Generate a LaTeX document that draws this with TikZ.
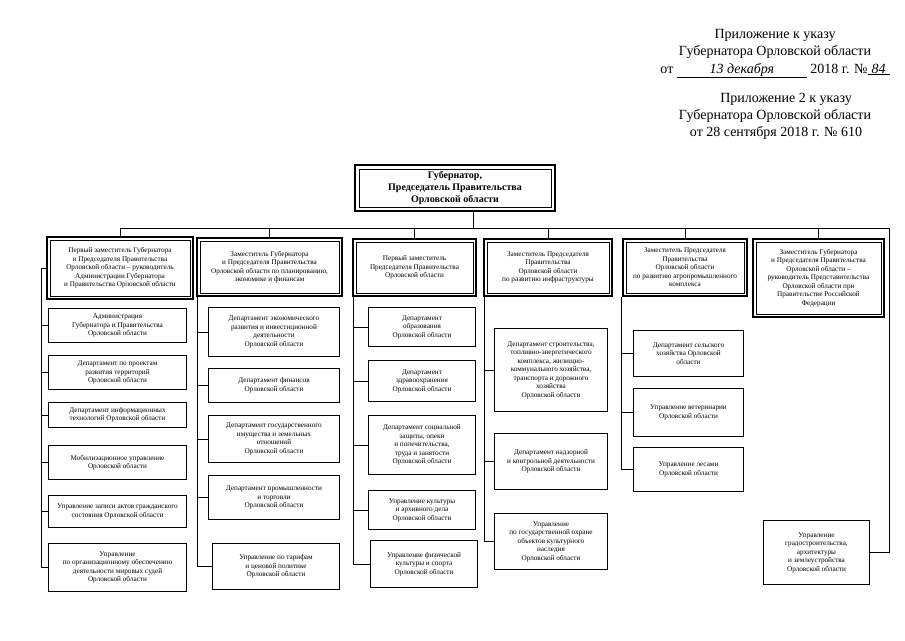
\documentclass[tikz,border=0pt]{standalone}
\usepackage{fontspec}
\setmainfont{Liberation Serif}
\tikzset{
    govbox/.style={draw, line width=1.5pt, align=center, inner sep=0pt, font=\bfseries\fontsize{10}{12}\selectfont,
        path picture={\draw[line width=0.8pt] ([shift={(4pt,-4pt)}]path picture bounding box.north west) rectangle ([shift={(-4pt,4pt)}]path picture bounding box.south east);}},
    headbox/.style={draw, line width=1.3pt, align=center, inner sep=0pt, font=\fontsize{7.2}{8.5}\selectfont,
        path picture={\draw[line width=0.7pt] ([shift={(2.9pt,-2.9pt)}]path picture bounding box.north west) rectangle ([shift={(-2.9pt,2.9pt)}]path picture bounding box.south east);}},
    subbox/.style={draw, line width=1.3pt, align=center, inner sep=0pt, font=\fontsize{7.2}{8.5}\selectfont},
    link/.style={line width=0.9pt},
    decree/.style={anchor=base, inner sep=0pt, font=\fontsize{14}{17}\selectfont}
}
\begin{document}
\begin{tikzpicture}[x=1pt, y=-1pt]
    \useasboundingbox (0, 0) rectangle (905, 640);
    \fill[white] (0, 0) rectangle (905, 640);

    % decree header
    \node[decree] (d1) at (775, 38) {Приложение к указу};
    \node[decree] (d2) at (775, 55) {Губернатора Орловской области};
    \node[decree] (d3) at (775, 73) {от \underline{\makebox[130pt]{\textit{13 декабря}}} 2018 г. №\underline{\makebox[22pt]{\textit{84}}}};
    \node[decree] (d4) at (786, 102) {Приложение 2 к указу};
    \node[decree] (d5) at (775, 119) {Губернатора Орловской области};
    \node[decree] (d6) at (776, 136) {от 28 сентября 2018 г. № 610};

    % governor
    \node[govbox, minimum width=200, minimum height=46] (gov) at (455, 188) {Губернатор,\\Председатель Правительства\\Орловской области};

    % deputies
    \node[headbox, minimum width=146, minimum height=62] (h1) at (120, 268) {Первый заместитель Губернатора\\и Председателя Правительства\\Орловской области – руководитель\\Администрации Губернатора\\и Правительства Орловской области};
    \node[headbox, minimum width=145, minimum height=58] (h2) at (269.5, 267) {Заместитель Губернатора\\и Председателя Правительства\\Орловской области по планированию,\\экономике и финансам};
    \node[headbox, minimum width=123, minimum height=57] (h3) at (414.5, 267.5) {Первый заместитель\\Председателя Правительства\\Орловской области};
    \node[headbox, minimum width=128, minimum height=57] (h4) at (548, 267.5) {Заместитель Председателя\\Правительства\\Орловской области\\по развитию инфраструктуры};
    \node[headbox, minimum width=124, minimum height=57] (h5) at (685, 267.5) {Заместитель Председателя\\Правительства\\Орловской области\\по развитию агропромышленного\\комплекса};
    \node[headbox, minimum width=131, minimum height=78] (h6) at (818.5, 278) {Заместитель Губернатора\\и Председателя Правительства\\Орловской области –\\руководитель Представительства\\Орловской области при\\Правительстве Российской\\Федерации};

    % column 1
    \node[subbox, minimum width=138, minimum height=34] (c1a) at (117.5, 325.5) {Администрация\\Губернатора и Правительства\\Орловской области};
    \node[subbox, minimum width=138, minimum height=34] (c1b) at (117.5, 372.5) {Департамент по проектам\\развития территорий\\Орловской области};
    \node[subbox, minimum width=138, minimum height=25] (c1c) at (117.5, 415) {Департамент информационных\\технологий Орловской области};
    \node[subbox, minimum width=138, minimum height=34] (c1d) at (117.5, 462.5) {Мобилизационное управление\\Орловской области};
    \node[subbox, minimum width=138, minimum height=32] (c1e) at (117.5, 511.5) {Управление записи актов гражданского\\состояния Орловской области};
    \node[subbox, minimum width=138, minimum height=48] (c1f) at (117.5, 567.5) {Управление\\по организационному обеспечению\\деятельности мировых судей\\Орловской области};

    % column 2
    \node[subbox, minimum width=131, minimum height=49] (c2a) at (274, 332) {Департамент экономического\\развития и инвестиционной\\деятельности\\Орловской области};
    \node[subbox, minimum width=131, minimum height=34] (c2b) at (274, 385.5) {Департамент финансов\\Орловской области};
    \node[subbox, minimum width=131, minimum height=47] (c2c) at (274, 439) {Департамент государственного\\имущества и земельных\\отношений\\Орловской области};
    \node[subbox, minimum width=131, minimum height=44] (c2d) at (274, 497.5) {Департамент промышленности\\и торговли\\Орловской области};
    \node[subbox, minimum width=127, minimum height=46] (c2e) at (276, 566.5) {Управление по тарифам\\и ценовой политике\\Орловской области};

    % column 3
    \node[subbox, minimum width=107, minimum height=39] (c3a) at (422, 327) {Департамент\\образования\\Орловской области};
    \node[subbox, minimum width=107, minimum height=41] (c3b) at (422, 381) {Департамент\\здравоохранения\\Орловской области};
    \node[subbox, minimum width=107, minimum height=59] (c3c) at (422, 445) {Департамент социальной\\защиты, опеки\\и попечительства,\\труда и занятости\\Орловской области};
    \node[subbox, minimum width=107, minimum height=39] (c3d) at (422, 510) {Управление культуры\\и архивного дела\\Орловской области};
    \node[subbox, minimum width=107, minimum height=47] (c3e) at (424, 564) {Управление физической\\культуры и спорта\\Орловской области};

    % column 4
    \node[subbox, minimum width=113, minimum height=83] (c4a) at (551, 370) {Департамент строительства,\\топливно-энергетического\\комплекса, жилищно-\\коммунального хозяйства,\\транспорта и дорожного\\хозяйства\\Орловской области};
    \node[subbox, minimum width=113, minimum height=56] (c4b) at (551, 461.5) {Департамент надзорной\\и контрольной деятельности\\Орловской области};
    \node[subbox, minimum width=113, minimum height=56] (c4c) at (551, 541.5) {Управление\\по государственной охране\\объектов культурного\\наследия\\Орловской области};

    % column 5
    \node[subbox, minimum width=110, minimum height=46] (c5a) at (688.5, 353.5) {Департамент сельского\\хозяйства Орловской\\области};
    \node[subbox, minimum width=110, minimum height=48] (c5b) at (688.5, 412.5) {Управление ветеринарии\\Орловской области};
    \node[subbox, minimum width=110, minimum height=44] (c5c) at (688.5, 469.5) {Управление лесами\\Орловской области};

    % column 6
    \node[subbox, minimum width=106, minimum height=64] (c6a) at (816.5, 552.5) {Управление\\градостроительства,\\архитектуры\\и землеустройства\\Орловской области};

    % top bus
    \coordinate (bus) at (0, 228);
    \coordinate (busend) at (889, 228);
    \draw[link] ([xshift=18]gov.south) -- ([xshift=18]gov.south |- bus);
    \draw[link] (h1.north |- bus) -- (busend) |- (c6a.east);
    \foreach \h in {h1, h2, h3, h4, h5, h6}
        \draw[link] (\h.north) -- (\h.north |- bus);

    % spines
    \coordinate (s1) at (41, 268);
    \draw[link] (h1.west) -- (s1) |- (c1f.west);
    \foreach \b in {a, b, c, d, e}
        \draw[link] (s1 |- c1\b.west) -- (c1\b.west);

    \coordinate (s2) at ([xshift=1.5]h2.south west);
    \draw[link] (s2) |- (c2e.west);
    \foreach \b in {a, b, c, d}
        \draw[link] (s2 |- c2\b.west) -- (c2\b.west);

    \coordinate (s3) at ([xshift=1.5]h3.south west);
    \draw[link] (s3) |- (c3e.west);
    \foreach \b in {a, b, c, d}
        \draw[link] (s3 |- c3\b.west) -- (c3\b.west);

    \coordinate (s4) at ([xshift=1.5]h4.south west);
    \draw[link] (s4) |- (c4c.west);
    \foreach \b in {a, b}
        \draw[link] (s4 |- c4\b.west) -- (c4\b.west);

    \coordinate (s5) at ([xshift=-1]h5.south west);
    \draw[link] (s5) |- (c5c.west);
    \foreach \b in {a, b}
        \draw[link] (s5 |- c5\b.west) -- (c5\b.west);
\end{tikzpicture}
\end{document}
